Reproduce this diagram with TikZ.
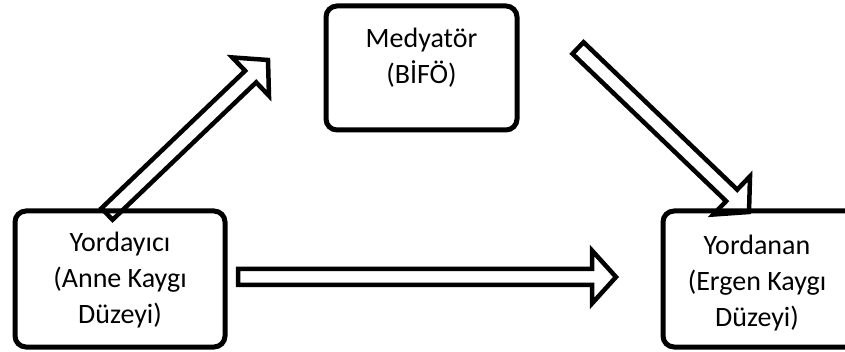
\documentclass[tikz,border=0pt]{standalone}
\usepackage{fontspec}
\setmainfont{Carlito}
\usetikzlibrary{calc}

\tikzset{
  roundbox/.style={draw, line width=5pt, rounded corners=11pt, inner sep=0pt},
  boxtext/.style={inner sep=0pt, align=center, font=\fontsize{28}{36}\selectfont},
  arrowline/.style={draw, line width=4.5pt, line join=miter},
}

% hollow block arrow from #1 (tail) to #2 (tip)
\newcommand\blockarrow[2]{%
  \coordinate (hb) at ($(#2)!24pt!(#1)$);
  \draw[arrowline] ($(#1)!8pt!90:(#2)$) -- ($(hb)!8pt!-90:(#1)$)
    -- ($(hb)!26.5pt!-90:(#1)$) -- (#2) -- ($(hb)!26.5pt!90:(#1)$)
    -- ($(hb)!8pt!90:(#1)$) -- ($(#1)!8pt!-90:(#2)$) -- cycle;}

\begin{document}
\begin{tikzpicture}[x=1pt, y=-1pt]
  \useasboundingbox (0,0) rectangle (845,352);
  \clip (0,0) rectangle (845,352);

  % boxes
  \node[roundbox, minimum width=210pt, minimum height=136pt] (pred) at (120,279) {};
  \node[roundbox, minimum width=191pt, minimum height=124pt] (med) at (421.5,68) {};
  \node[roundbox, minimum width=210pt, minimum height=136pt] (out) at (768,279) {};

  % labels
  \node[boxtext] (predtxt) at (120,280) {Yordayıcı\\(Anne Kaygı\\Düzeyi)};
  \node[boxtext] (medtxt) at (421.5,58) {Medyatör\\(BİFÖ)};
  \node[boxtext] (outtxt) at (757,283) {Yordanan\\(Ergen Kaygı\\Düzeyi)};

  % arrow end points
  \coordinate (pm1) at (107,214);
  \coordinate (pm2) at (268,60);
  \coordinate (mo1) at (578,48);
  \coordinate (mo2) at (749,212);
  \coordinate (po1) at (238,277);
  \coordinate (po2) at (616,277);

  \blockarrow{pm1}{pm2}
  \blockarrow{mo1}{mo2}
  \blockarrow{po1}{po2}
\end{tikzpicture}
\end{document}
